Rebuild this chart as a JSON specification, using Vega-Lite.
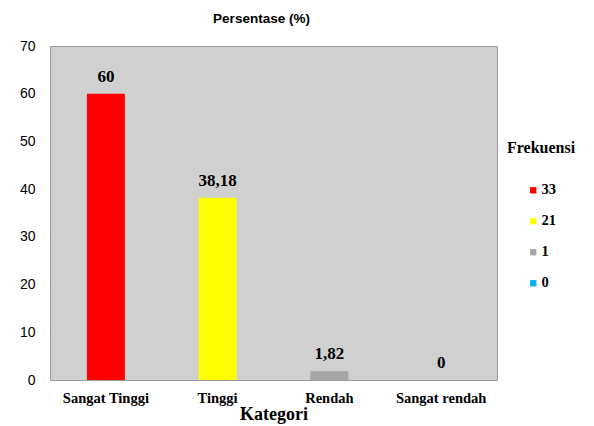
{
  "$schema": "https://vega.github.io/schema/vega-lite/v6.json",
  "autosize": "none",
  "width": 447,
  "height": 334,
  "padding": {"left": 50, "top": 46, "right": 97, "bottom": 46},
  "background": "white",
  "title": {
    "text": "Persentase (%)",
    "font": "Liberation Sans",
    "fontSize": 13.5,
    "fontWeight": "bold",
    "color": "#000000",
    "anchor": "middle",
    "dx": -12,
    "offset": 14
  },
  "config": {
    "view": {"fill": "#d0d0d0", "stroke": "#9a9a9a", "strokeWidth": 1}
  },
  "data": {
    "values": [
      {"Kategori": "Sangat Tinggi", "Persentase": 60, "Label": "60", "Frekuensi": "33"},
      {"Kategori": "Tinggi", "Persentase": 38.18, "Label": "38,18", "Frekuensi": "21"},
      {"Kategori": "Rendah", "Persentase": 1.82, "Label": "1,82", "Frekuensi": "1"},
      {"Kategori": "Sangat rendah", "Persentase": 0, "Label": "0", "Frekuensi": "0"}
    ]
  },
  "encoding": {
    "x": {
      "field": "Kategori",
      "type": "nominal",
      "sort": null,
      "scale": {"paddingInner": 0.66, "paddingOuter": 0.33},
      "axis": {
        "title": "Kategori",
        "titleFont": "Liberation Serif",
        "titleFontSize": 18,
        "titleFontWeight": "bold",
        "titleColor": "#000000",
        "titlePadding": 1,
        "labelFont": "Liberation Serif",
        "labelFontSize": 14.5,
        "labelFontWeight": "bold",
        "labelColor": "#000000",
        "labelAngle": 0,
        "labelPadding": 11,
        "ticks": false,
        "domain": false
      }
    },
    "y": {
      "field": "Persentase",
      "type": "quantitative",
      "scale": {"domain": [0, 70], "nice": false},
      "axis": {
        "title": null,
        "values": [0, 10, 20, 30, 40, 50, 60, 70],
        "labelFont": "Liberation Sans",
        "labelFontSize": 14,
        "labelColor": "#000000",
        "labelPadding": 15,
        "ticks": false,
        "domain": false,
        "grid": false
      }
    }
  },
  "layer": [
    {
      "mark": {"type": "bar"},
      "encoding": {
        "color": {
          "field": "Frekuensi",
          "type": "nominal",
          "scale": {
            "domain": ["33", "21", "1", "0"],
            "range": ["#ff0000", "#ffff00", "#a6a6a6", "#00b0f0"]
          },
          "legend": {
            "title": "Frekuensi",
            "orient": "none",
            "legendX": 457,
            "legendY": 94,
            "titleFont": "Liberation Serif",
            "titleFontSize": 16,
            "titleFontWeight": "bold",
            "titleColor": "#000000",
            "titlePadding": 27,
            "labelFont": "Liberation Serif",
            "labelFontSize": 14.5,
            "labelFontWeight": "bold",
            "labelColor": "#000000",
            "labelOffset": 1,
            "symbolType": "square",
            "symbolSize": 40,
            "symbolStrokeWidth": 0,
            "symbolOffset": 19,
            "rowPadding": 16
          }
        }
      }
    },
    {
      "mark": {
        "type": "text",
        "baseline": "bottom",
        "dy": -8,
        "font": "Liberation Serif",
        "fontSize": 17,
        "fontWeight": "bold",
        "color": "#000000"
      },
      "encoding": {
        "text": {"field": "Label", "type": "nominal"}
      }
    }
  ]
}
